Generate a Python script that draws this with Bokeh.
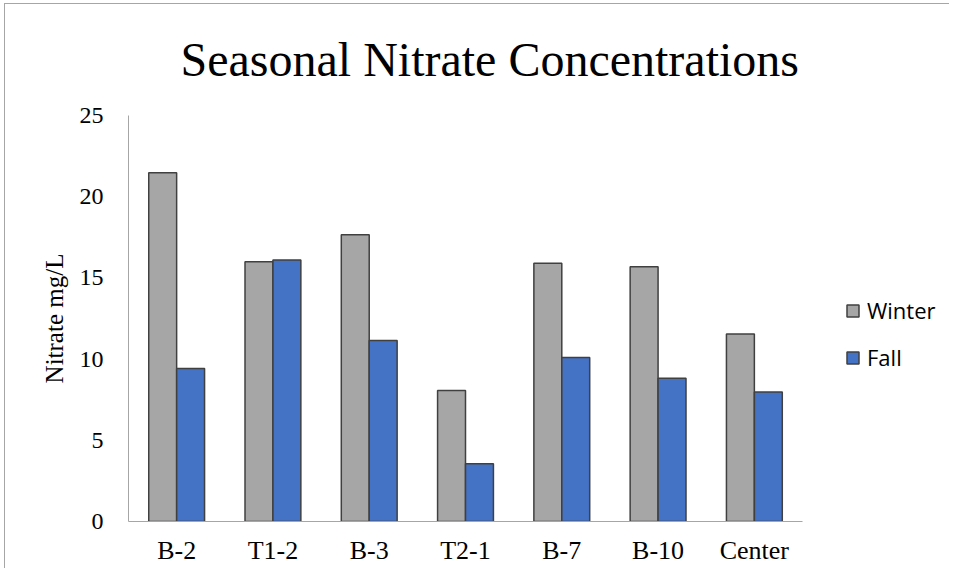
from bokeh.plotting import figure
from bokeh.models import (ColumnDataSource, Range1d, Legend, LegendItem,
                          FixedTicker, Title)
from bokeh.transform import dodge
from bokeh.embed import file_html
from bokeh.resources import INLINE

# ---- data ----
sites = ["B-2", "T1-2", "B-3", "T2-1", "B-7", "B-10", "Center"]
winter = [21.47, 16.0, 17.65, 8.07, 15.9, 15.68, 11.55]
fall = [9.42, 16.1, 11.15, 3.55, 10.1, 8.82, 7.97]
series = ["Winter", "Fall"]
y_ticks = [0, 5, 10, 15, 20, 25]
title_text = "Seasonal Nitrate Concentrations"
y_label = "Nitrate mg/L"

pos = list(range(1, len(sites) + 1))          # category slots on the x axis
src = ColumnDataSource(dict(pos=pos, site=sites, winter=winter, fall=fall))

# the frame extends to the right edge so the legend sits inside it
p = figure(x_range=Range1d(0.5, 9.037), y_range=Range1d(0, 25),
           width=945, height=565, output_backend="svg", toolbar_location=None,
           min_border_left=123, min_border_right=0, min_border_top=111,
           min_border_bottom=48, title=None)
p.styles = {"margin-left": "4px", "margin-top": "3px",
            "border-left": "1px solid #a6a6a6", "border-top": "1px solid #a6a6a6"}
p.outline_line_color = None
p.background_fill_color = "white"
p.border_fill_color = "white"
p.xgrid.grid_line_color = None
p.ygrid.grid_line_color = None

bw = 0.29
r1 = p.vbar(x=dodge("pos", -bw / 2), top="winter", width=bw,
            source=src, fill_color="#a6a6a6", line_color="#404040", line_width=1.5)
r2 = p.vbar(x=dodge("pos", bw / 2), top="fall", width=bw,
            source=src, fill_color="#4472C4", line_color="#404040", line_width=1.5)

for ax in (p.xaxis[0], p.yaxis[0]):
    ax.axis_line_color = "#a6a6a6"
    ax.axis_line_width = 1
    ax.major_tick_line_color = None
    ax.minor_tick_line_color = None
    ax.major_tick_out = 0
    ax.major_tick_in = 0
    ax.major_label_text_font = "Liberation Serif"
    ax.major_label_text_color = "black"

p.xaxis.ticker = FixedTicker(ticks=pos)
p.xaxis.major_label_overrides = {k: s for k, s in zip(pos, sites)}
p.xaxis.bounds = (0.5, len(sites) + 0.5)
p.xaxis.major_label_text_font_size = "26px"
p.xaxis.major_label_standoff = 14

p.yaxis.ticker = FixedTicker(ticks=y_ticks)
p.yaxis.major_label_text_font_size = "24px"
p.yaxis.major_label_standoff = 25
p.yaxis.axis_label = y_label
p.yaxis.axis_label_text_font = "Liberation Serif"
p.yaxis.axis_label_text_font_size = "25px"
p.yaxis.axis_label_text_font_style = "normal"
p.yaxis.axis_label_text_color = "black"
p.yaxis.axis_label_standoff = 9

legend = Legend(items=[LegendItem(label=series[0], renderers=[r1]),
                       LegendItem(label=series[1], renderers=[r2])],
                location=(717, 149), padding=0, margin=0, spacing=17,
                glyph_width=15, glyph_height=15, label_standoff=7,
                label_text_font="Open Sans", label_text_font_size="22px",
                label_text_color="black",
                border_line_color=None, background_fill_alpha=0)
p.add_layout(legend)

title = Title(text=title_text, align="left", offset=52, vertical_align="top",
              standoff=55, text_font="Liberation Serif", text_font_size="48px",
              text_font_style="normal", text_color="black")
p.add_layout(title, "above")

open("out.html", "w").write(file_html(p, INLINE))
